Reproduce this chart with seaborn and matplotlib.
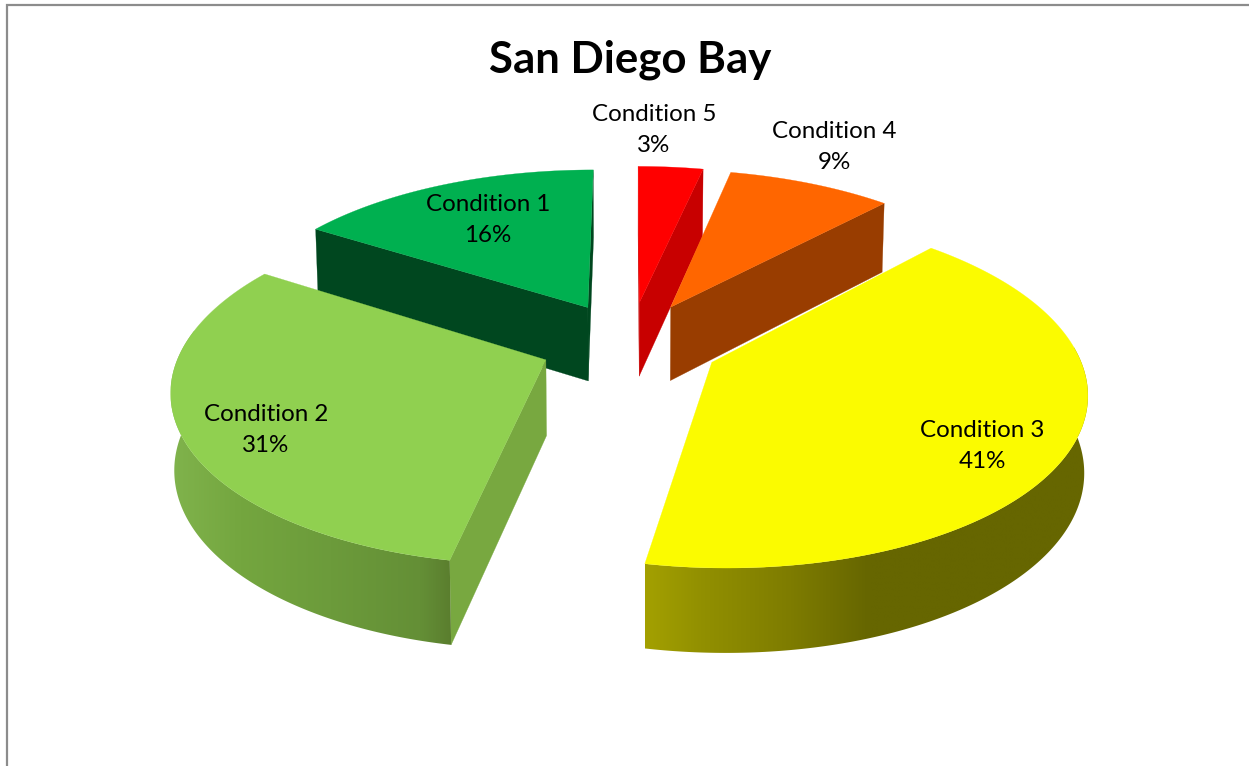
import numpy as np
import seaborn as sns
import matplotlib
matplotlib.use("Agg")
import matplotlib.pyplot as plt
from matplotlib.patches import Polygon

# clockwise from 12 o'clock, same order as the sheet
conditions = ["Condition 5", "Condition 4", "Condition 3", "Condition 2", "Condition 1"]
percents = [3.4, 8.6, 41, 31, 16]

top_colors = ["#ff0000", "#ff6600", "#fbfb00", "#90d050", "#00b050"]
side_colors = ["#c80000", "#993d00", "#666600", "#78a840", "#00471f"]
label_xy = [(654, 130), (834, 147), (982, 446), (266, 430), (488, 220)]

# rim shading, screen x -> colour (only the two front slices show it)
rim_stops = {
    "Condition 3": ([646, 700, 790, 868, 1090], ["#a3a000", "#929000", "#7e7c00", "#666600", "#666600"]),
    "Condition 2": ([172, 240, 330, 420, 452], ["#80b34c", "#74a63f", "#6c9b3b", "#648f36", "#5a7d2e"]),
}

# camera, fitted by eye to the picture
U0, H0, C, K, A = 630, -772, 1115, 0.15, 361
EXPLODE, RADIUS, BOTTOM_U = 0.25, 1.006, 0.992


def project(x, y, bottom=False):
    s = 1 / (1 + K * y)
    if bottom:
        return U0 + BOTTOM_U * A * x * s, H0 + C * s + 26 + 49 * s
    return U0 + A * x * s, H0 + C * s


def draw_rim(ax, name, ox, oy, start, end, z):
    # only the part of the rim that faces the viewer
    th = np.radians(np.linspace(max(start, 85), min(end, 280), 160))
    xs, ys = ox + RADIUS * np.sin(th), oy + RADIUS * np.cos(th)
    ut, vt = project(xs, ys)
    ub, vb = project(xs, ys, bottom=True)
    outline = np.c_[np.r_[ut, ub[::-1]], np.r_[vt, vb[::-1]]]

    xp, cp = rim_stops[name]
    rgb = np.array([matplotlib.colors.to_rgb(c) for c in cp])
    grid = np.linspace(outline[:, 0].min(), outline[:, 0].max(), 400)
    strip = np.stack([np.interp(grid, xp, rgb[:, k]) for k in range(3)], axis=-1)[None, :, :]

    im = ax.imshow(strip, extent=(grid[0], grid[-1], outline[:, 1].max(), outline[:, 1].min()),
                   aspect="auto", zorder=z + 0.1, interpolation="bilinear")
    clip = Polygon(outline, closed=True, transform=ax.transData, fc="none", ec="none")
    ax.add_patch(clip)
    im.set_clip_path(clip)


def draw_slice(ax, name, start, end, top, side, z):
    mid = np.radians((start + end) / 2)
    ox, oy = EXPLODE * np.sin(mid), EXPLODE * np.cos(mid)
    th = np.radians(np.linspace(start, end, 160))
    xs, ys = ox + RADIUS * np.sin(th), oy + RADIUS * np.cos(th)

    ut, vt = project(xs, ys)
    ub, vb = project(xs, ys, bottom=True)
    a_t = project(ox, oy)
    a_b = project(ox, oy, bottom=True)
    inner = project(ox + 0.5 * np.sin(mid), oy + 0.5 * np.cos(mid))

    # a cut face shows when the slice lies above its edge on screen
    for i in (0, -1):
        dx, dy = ut[i] - a_t[0], vt[i] - a_t[1]
        side_in = dx * (inner[1] - a_t[1]) - dy * (inner[0] - a_t[0])
        if side_in * dx < 0:
            face = [a_t, (ut[i], vt[i]), (ub[i], vb[i]), a_b]
            ax.fill(*zip(*face), color=side, lw=0.2, zorder=z)

    if name in rim_stops:
        draw_rim(ax, name, ox, oy, start, end, z)

    ax.fill(np.r_[a_t[0], ut], np.r_[a_t[1], vt], color=top, lw=0.2, zorder=z + 0.2)


sns.set_theme(style="white")
plt.rcParams["font.family"] = ["Lato", "DejaVu Sans"]

fig = plt.figure(figsize=(12.49, 7.66), dpi=100)
ax = fig.add_axes([0, 0, 1, 1])

# chart border, only top and left are in the crop
ax.plot([7, 7, 1249], [766, 5, 5], color="#8c8c8c", lw=1.6, solid_joinstyle="miter")

edges = np.cumsum([0] + percents) / sum(percents) * 360
order = {"Condition 5": 1, "Condition 4": 2, "Condition 1": 3, "Condition 2": 4, "Condition 3": 5}
for i, name in enumerate(conditions):
    draw_slice(ax, name, edges[i], edges[i + 1], top_colors[i], side_colors[i], order[name])

ax.set_xlim(0, 1249)
ax.set_ylim(766, 0)
ax.axis("off")

for name, pct, (x, y) in zip(conditions, percents, label_xy):
    ax.text(x, y, f"{name}\n{round(pct)}%", ha="center", va="center", fontsize=17.4,
            color="black", linespacing=1.62, zorder=10)

ax.text(630, 60, "San Diego Bay", ha="center", va="center", fontsize=31.5,
        fontweight="bold", color="black", zorder=10)

fig.savefig("out.png", dpi=100)
